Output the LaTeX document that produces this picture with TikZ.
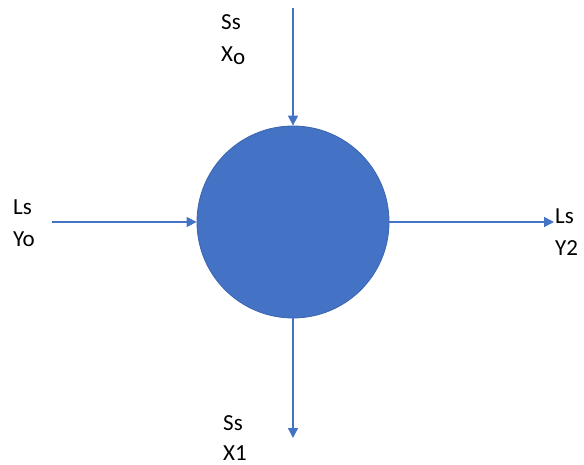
\documentclass[tikz,border=0pt]{standalone}
\usepackage{fontspec}
\setmainfont{Carlito}
\usetikzlibrary{arrows.meta}

\definecolor{unitblue}{HTML}{4472C4}
\definecolor{unitedge}{HTML}{3B65B0}

\tikzset{
  flow/.style = {draw=unitblue, line width=1.4pt,
                 -{Triangle[length=10pt,width=10pt]}},
  tag/.style  = {anchor=base west, inner sep=0pt,
                 font=\fontsize{23}{30}\selectfont}
}

\begin{document}
\begin{tikzpicture}[x=1pt,y=-1pt]
    \useasboundingbox (0,0) rectangle (584,465);

    % Unit
    \node (unit) [circle, minimum size=192pt, inner sep=0pt,
                  fill=unitblue, draw=unitedge, line width=0.8pt] at (293,222) {};

    % Stream ends
    \coordinate (topin)  at (293,8);
    \coordinate (leftin) at (52,222);
    \coordinate (rightout) at (554,222);
    \coordinate (botout) at (293,438);

    % Streams
    \draw[flow] (topin) -- (unit.north);
    \draw[flow] (leftin) -- (unit.west);
    \draw[flow] (unit.east) -- (rightout);
    \draw[flow] (unit.south) -- (botout);

    % Labels
    \node (ssA) [tag] at (221,30)  {Ss};
    \node (xo)  [tag] at (221,62)  {X\raisebox{-3pt}{o}};
    \node (lsA) [tag] at (13,215)  {Ls};
    \node (yo)  [tag] at (13,247)  {Yo};
    \node (lsB) [tag] at (555,224) {Ls};
    \node (y2)  [tag] at (555,256) {Y2};
    \node (ssB) [tag] at (223,430) {Ss};
    \node (x1)  [tag] at (223,460) {X1};
\end{tikzpicture}
\end{document}
